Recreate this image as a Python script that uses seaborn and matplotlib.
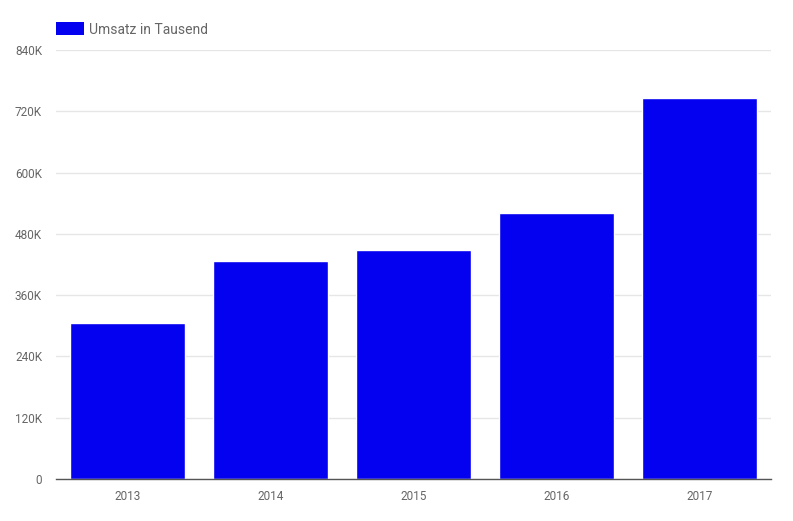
import matplotlib

matplotlib.use("Agg")
import matplotlib.pyplot as plt
import pandas as pd
import seaborn as sns
from matplotlib.patches import Patch
from matplotlib.ticker import FuncFormatter

# Data (values in thousands)
years = ["2013", "2014", "2015", "2016", "2017"]
umsatz = [306, 426, 449, 520, 746]
y_ticks = [0, 120, 240, 360, 480, 600, 720, 840]

BAR_COLOR = "#0400f0"
TEXT_COLOR = "#666666"

sns.set_style("white")
plt.rcParams["font.family"] = ["Roboto", "DejaVu Sans"]

df = pd.DataFrame({"Jahr": years, "Umsatz": umsatz})

fig = plt.figure(figsize=(7.93, 5.21), dpi=100)
ax = fig.add_axes([56 / 793, 42 / 521, 715 / 793, 429 / 521])

sns.barplot(data=df, x="Jahr", y="Umsatz", color=BAR_COLOR, saturation=1,
            width=0.8, ax=ax, zorder=2)

ax.set_ylim(0, 840)
ax.set_yticks(y_ticks)
ax.yaxis.set_major_formatter(FuncFormatter(lambda v, _: "0" if v == 0 else f"{int(v)}K"))
ax.grid(axis="y", color="#e6e6e6", linewidth=1, zorder=0)
ax.set_axisbelow(True)

for side in ["top", "right", "left"]:
    ax.spines[side].set_visible(False)
ax.spines["bottom"].set_color("#555555")
ax.spines["bottom"].set_linewidth(1)
ax.spines["bottom"].set_zorder(3)

ax.tick_params(axis="both", length=0, labelsize=8.5, labelcolor=TEXT_COLOR)
ax.tick_params(axis="x", pad=8)
ax.tick_params(axis="y", pad=10)
ax.set_xlabel("")
ax.set_ylabel("")

handle = Patch(facecolor=BAR_COLOR, edgecolor="none")
leg = fig.legend([handle], ["Umsatz in Tausend"], loc="upper left",
                 bbox_to_anchor=(45 / 793, 1 - 11 / 521), frameon=False,
                 handlelength=2.0, handleheight=1.1, handletextpad=0.35,
                 fontsize=10, borderpad=0.3)
for t in leg.get_texts():
    t.set_color(TEXT_COLOR)

fig.savefig("out.png", dpi=100)
plt.close(fig)
